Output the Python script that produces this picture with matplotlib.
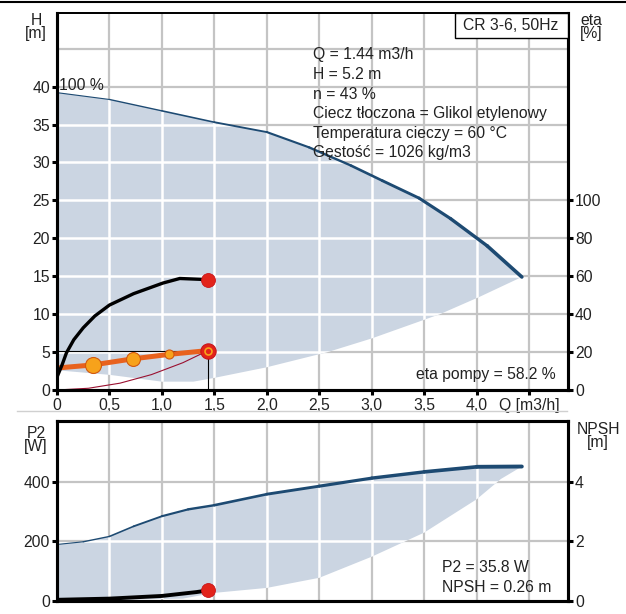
import numpy as np
import matplotlib
matplotlib.use('Agg')
from matplotlib import pyplot as plt
from matplotlib.patches import Polygon, Rectangle
from matplotlib.lines import Line2D

plt.rcParams['font.family'] = ['Liberation Sans', 'DejaVu Sans']
FS = 11.3
plt.rcParams['font.size'] = FS

# --- data ---
q_head = [0, 0.5, 1.0, 1.5, 2.0, 2.4, 2.8, 3.1, 3.45, 3.75, 4.1, 4.43]
h_head = [39.2, 38.3, 36.8, 35.3, 34.0, 32.0, 29.6, 27.6, 25.3, 22.6, 19.0, 14.9]
q_head_min = [0, 0.5, 1.0, 1.3, 1.5, 2.0, 2.58, 3.0, 3.65, 4.03, 4.43]
h_head_min = [2.6, 2.0, 1.1, 1.1, 1.6, 3.0, 5.0, 6.8, 10.0, 12.3, 14.9]

q_speed = [0, 0.34, 0.72, 1.07, 1.44]
h_speed = [2.9, 3.3, 4.1, 4.7, 5.2]
q_system = [0, 0.3, 0.6, 0.9, 1.2, 1.44]
h_system = [0, 0.23, 0.9, 2.03, 3.6, 5.2]
q_eta = [0, 0.05, 0.09, 0.16, 0.25, 0.36, 0.5, 0.73, 1.01, 1.17, 1.44]
eta = [6.8, 13.5, 19.6, 26.5, 32.8, 39.0, 44.8, 50.8, 56.4, 58.8, 58.2]

q_p2 = [0, 0.25, 0.5, 0.73, 1.0, 1.25, 1.5, 2.0, 2.5, 3.0, 3.5, 4.0, 4.43]
p2 = [190, 199, 217, 251, 285, 308, 322, 359, 386, 413, 434, 451, 452]
q_p2_min = [0, 1.2, 1.49, 2.0, 2.5, 3.0, 3.5, 4.0, 4.23, 4.43]
p2_min = [0, 8, 27, 44, 78, 149, 230, 342, 410, 452]
q_p2_duty = [0, 0.5, 1.0, 1.33, 1.44]
p2_duty = [4, 8, 17, 30, 35.8]

q_duty, h_duty, eta_duty, p2_value = 1.44, 5.2, 58.2, 35.8

x_ticks = [0, 0.5, 1.0, 1.5, 2.0, 2.5, 3.0, 3.5, 4.0, 4.5]
x_labels = ['0', '0,5', '1,0', '1,5', '2,0', '2,5', '3,0', '3,5', '4,0', 'Q [m3/h]']
h_ticks = [0, 5, 10, 15, 20, 25, 30, 35, 40]
eta_ticks = [0, 20, 40, 60, 80, 100]
p2_ticks = [0, 200, 400]
npsh_ticks = [0, 2, 4]

info_lines = ['Q = 1.44 m3/h', 'H = 5.2 m', 'n = 43 %',
              'Ciecz tłoczona = Glikol etylenowy',
              'Temperatura cieczy = 60 °C', 'Gęstość = 1026 kg/m3']

FILL = '#cbd5e2'
GRID = '#c4c4c4'
CURVE = '#1d4a72'
TXT = '#222222'

W, H = 626, 614
fig = plt.figure(figsize=(W / 100, H / 100), dpi=100)


def frac(x0, y0, x1, y1):
    return [x0 / W, 1 - y1 / H, (x1 - x0) / W, (y1 - y0) / H]


def style_axes(ax):
    for s in ax.spines.values():
        s.set_linewidth(2.2)
        s.set_zorder(10)
    ax.tick_params(direction='out', length=3.6, width=2.2, colors='black',
                   labelcolor=TXT, labelsize=FS, pad=1.5)


def shaded(ax, qu, yu, ql, yl, xgrid, ygrid):
    verts = list(zip(qu, yu)) + list(zip(ql[::-1], yl[::-1]))
    patch = Polygon(verts, closed=True, facecolor=FILL, edgecolor='none', zorder=1)
    ax.add_patch(patch)
    for x in xgrid:
        ax.axvline(x, color=GRID, lw=1.6, zorder=0)
        ln = ax.axvline(x, color='white', lw=1.8, zorder=1.5)
        ln.set_clip_path(patch)
    for y in ygrid:
        ax.axhline(y, color=GRID, lw=1.6, zorder=0)
        ln = ax.axhline(y, color='white', lw=1.8, zorder=1.5)
        ln.set_clip_path(patch)


def tapered(ax, q, y, w0, w1):
    n = len(q) - 1
    for i in range(n):
        lw = w0 + (w1 - w0) * i / max(n - 1, 1)
        ax.plot(q[i:i + 2], y[i:i + 2], color=CURVE, lw=lw,
                solid_capstyle='round', zorder=4)


# ---------------- top panel ----------------
ax = fig.add_axes(frac(57, 13, 568, 390))
ax.set_xlim(0, 4.87)
ax.set_ylim(0, 49.7)
style_axes(ax)
shaded(ax, q_head, h_head, q_head_min, h_head_min,
       x_ticks[1:], [5, 10, 15, 20, 25, 30, 35, 40, 45])
tapered(ax, q_head, h_head, 0.8, 2.6)

ax.plot(q_system, h_system, color='#9a1030', lw=0.8, zorder=3)
ax.plot([0, q_duty], [h_duty, h_duty], color='black', lw=0.8, zorder=3)
ax.plot([q_duty, q_duty], [0, h_duty], color='black', lw=0.8, zorder=3)
ax.plot(q_speed, h_speed, color='#e8621e', lw=3.6, zorder=5, solid_capstyle='butt')
for q, h, ms in zip(q_speed[1:4], h_speed[1:4], [11.5, 10, 6.5]):
    ax.plot(q, h, 'o', ms=ms, mfc='#f7a21b', mec='#d2580f', mew=0.8, zorder=6)
ax.plot(q_duty, h_duty, 'o', ms=11, mfc='#e2231a', mec='#c8141a', mew=0.8, zorder=7)
ax.plot(q_duty, h_duty, 'o', ms=5, mfc='none', mec='#f7a21b', mew=1.2, zorder=8)

ax.set_xticks(x_ticks)
ax.set_xticklabels(x_labels)
ax.set_yticks(h_ticks)
ax.tick_params(axis='x', pad=2)

ax2 = ax.twinx()
ax2.set_ylim(0, 49.7 * 4)
style_axes(ax2)
ax2.spines['top'].set_linewidth(1.3)
ax2.set_yticks(eta_ticks)
ax2.plot(q_eta, eta, color='black', lw=2.4, zorder=5, solid_joinstyle='round')
ax2.plot(q_duty, eta_duty, 'o', ms=10, mfc='#e2231a', mec='#c8141a', mew=0.6, zorder=7)
ax.spines['top'].set_linewidth(1.3)

ax.text(0.02, 40.2, '100 %', color=TXT, ha='left', va='center', zorder=6)
y0 = 55
for i, line in enumerate(info_lines):
    fig.text(313 / W, 1 - (y0 + i * 19.6) / H, line, color=TXT,
             ha='left', va='center')
box = Rectangle((455 / W, 1 - 38 / H), (568 - 455) / W, 25 / H, transform=fig.transFigure,
                facecolor='white', edgecolor='black', lw=1.0, zorder=20)
fig.add_artist(box)
fig.text(511 / W, 1 - 25 / H, 'CR 3-6, 50Hz', color=TXT,
         ha='center', va='center', zorder=21)
fig.text(556 / W, 1 - 375 / H, 'eta pompy = 58.2 %', color=TXT,
         ha='right', va='center')
fig.text(36 / W, 1 - 27 / H, 'H\n[m]', color=TXT, ha='center', va='center',
         linespacing=0.85)
fig.text(591 / W, 1 - 27 / H, 'eta\n[%]', color=TXT, ha='center', va='center',
         linespacing=0.85)

# ---------------- bottom panel ----------------
bx = fig.add_axes(frac(57, 421, 568, 601))
bx.set_xlim(0, 4.87)
bx.set_ylim(0, 605)
style_axes(bx)
shaded(bx, q_p2, p2, q_p2_min, p2_min, x_ticks[1:], [200, 400])
tapered(bx, q_p2, p2, 0.8, 2.8)
bx.plot(q_p2_duty, p2_duty, color='black', lw=2.8, zorder=5)
bx.plot(q_duty, p2_value, 'o', ms=10, mfc='#e2231a', mec='#c8141a', mew=0.6, zorder=7)
bx.set_xticks([])
bx.set_yticks(p2_ticks)

bx2 = bx.twinx()
bx2.set_ylim(0, 6.05)
style_axes(bx2)
bx2.set_yticks(npsh_ticks)

fig.text(442 / W, 1 - 567 / H, 'P2 = 35.8 W', color=TXT, ha='left', va='center')
fig.text(442 / W, 1 - 587 / H, 'NPSH = 0.26 m', color=TXT, ha='left', va='center')
fig.text(36 / W, 1 - 440 / H, 'P2\n[W]', color=TXT, ha='center', va='center',
         linespacing=0.85)
fig.text(598 / W, 1 - 436 / H, 'NPSH\n[m]', color=TXT, ha='center', va='center',
         linespacing=0.85)

# frame lines
fig.add_artist(Line2D([0, 1], [1 - 1.5 / H, 1 - 1.5 / H], color='black', lw=1.5))
fig.add_artist(Line2D([17 / W, 567 / W], [1 - 411 / H, 1 - 411 / H], color='#d0d0d0', lw=1))

fig.savefig('out.png', dpi=100)
